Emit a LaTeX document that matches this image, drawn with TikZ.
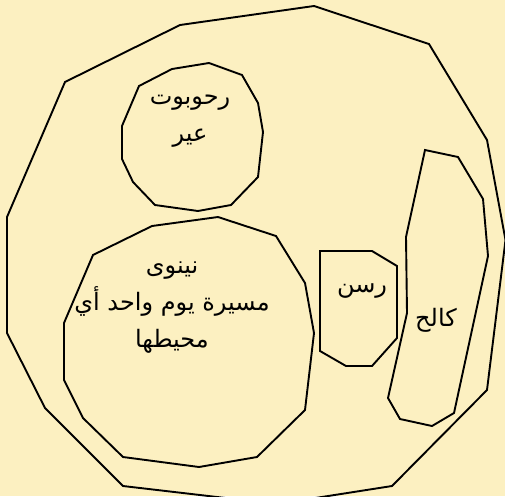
\documentclass[tikz,border=0pt]{standalone}
\usepackage{fontspec}
\newfontfamily\arabicfont[Script=Arabic]{DejaVu Sans}
\TeXXeTstate=1
\definecolor{mapbg}{RGB}{252,240,193}
\tikzset{
  region/.style={draw=black, line width=1.9pt, line join=miter},
  place/.style={font=\arabicfont\fontsize{24}{37}\selectfont, align=center, inner sep=0pt}
}

\begin{document}
\begin{tikzpicture}[x=1pt, y=-1pt]
    \fill[mapbg] (0,0) rectangle (505,496);
    \useasboundingbox (0,0) rectangle (505,496);
    \clip (0,0) rectangle (505,496);

    \draw[region] (314,6) -- (429,44) -- (487,140) -- (505.5,240) -- (487,390) -- (392,486) -- (277,504) -- (123,486) -- (45,408) -- (7,333) -- (7,217) -- (65,82) -- (180,25) -- cycle;
    \draw[region] (209,63) -- (242,75) -- (258,103) -- (263,132) -- (258,177) -- (231,205) -- (198,211) -- (155,205) -- (133,182) -- (122,159) -- (122,126) -- (139,86) -- (172,69) -- cycle;
    \draw[region] (218,217) -- (276,236) -- (305,283) -- (314,333) -- (305,410) -- (257,457) -- (199,467) -- (123,457) -- (83,418) -- (64,380) -- (64,323) -- (93,255) -- (152,226) -- cycle;
    \draw[region] (320,251) -- (372,251) -- (397,266) -- (397,338) -- (372,366) -- (346,366) -- (320,351) -- cycle;
    \draw[region] (425,150) -- (458,157) -- (483,199) -- (488,256) -- (454,413) -- (432,426) -- (400,419) -- (388,398) -- (407,313) -- (406,237) -- cycle;

    \node[place] (rehoboth) at (190,121) {\beginR رحوبوت\endR\\\beginR عير\endR};
    \node[place] (nineveh) at (172,308) {\beginR نينوى\endR\\\beginR مسيرة يوم واحد أي\endR\\\beginR محيطها\endR};
    \node[place] (resen) at (362,291) {\beginR رسن\endR};
    \node[place] (calah) at (436,320) {\beginR كالح\endR};
\end{tikzpicture}
\end{document}
